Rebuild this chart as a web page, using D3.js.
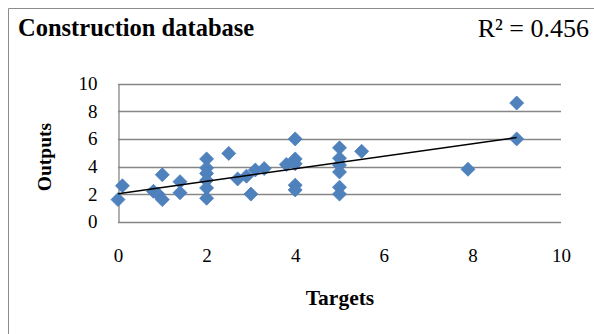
<!DOCTYPE html>
<html>
<head>
<meta charset="utf-8">
<script src="https://cdn.jsdelivr.net/npm/d3@7"></script>
<style>
  html, body { margin: 0; padding: 0; background: #fff; }
  svg { display: block; }
  text { font-family: "Liberation Serif", "Times New Roman", serif; fill: #000; }
</style>
</head>
<body>
<svg id="chart" width="594" height="334"></svg>
<script>
// Targets vs. outputs for the construction database
const targets = [0, 0.1, 0.8, 0.9, 1, 1, 1.4, 1.4,
  2, 2, 2, 2, 2, 2,
  2.5, 2.7, 2.9, 3, 3.1, 3.3, 3.8,
  4, 4, 4, 4, 4,
  5, 5, 5, 5, 5, 5,
  5.5, 7.9, 9, 9];
const outputs = [1.6, 2.6, 2.2, 2.0, 3.4, 1.6, 2.9, 2.1,
  4.55, 3.9, 3.5, 3.0, 2.45, 1.7,
  4.95, 3.1, 3.3, 2.0, 3.75, 3.85, 4.15,
  6.0, 4.55, 4.2, 2.65, 2.3,
  5.35, 4.6, 4.1, 3.6, 2.5, 2.0,
  5.1, 3.8, 8.6, 6.0];
const xTicks = [0, 2, 4, 6, 8, 10];
const yTicks = [0, 2, 4, 6, 8, 10];
const titleText = "Construction database";
const rSquaredText = "R\u00B2 = 0.456";

const svg = d3.select("#chart");
const plot = { left: 118, right: 561, top: 83.7, bottom: 221.7 };

const x = d3.scaleLinear().domain([0, 10]).range([plot.left, plot.right]);
const y = d3.scaleLinear().domain([0, 10]).range([plot.bottom, plot.top]);

// outer chart frame (left and top edges visible)
svg.append("path")
  .attr("d", "M8.5,334 V8.5 H594")
  .attr("fill", "none")
  .attr("stroke", "#8c8c8c")
  .attr("stroke-width", 1);

// horizontal gridlines
svg.append("g")
  .selectAll("line")
  .data(yTicks)
  .join("line")
  .attr("x1", plot.left).attr("x2", plot.right)
  .attr("y1", d => Math.round(y(d)) + 0.5).attr("y2", d => Math.round(y(d)) + 0.5)
  .attr("stroke", "#868686").attr("stroke-width", 1.3);

// y axis
const yAxis = d3.axisLeft(y).tickValues(yTicks).tickSize(0).tickPadding(21);
const gy = svg.append("g").attr("transform", `translate(${plot.left + 0.5},0)`).call(yAxis);
gy.select(".domain").attr("stroke", "#868686").attr("stroke-width", 1.3);
gy.selectAll("text").style("font-family", "Liberation Serif, serif").style("font-size", "19px").attr("fill", "#000");

// x axis (labels only)
const xAxis = d3.axisBottom(x).tickValues(xTicks).tickSize(0).tickPadding(27);
const gx = svg.append("g").attr("transform", `translate(0,${plot.bottom})`).call(xAxis);
gx.select(".domain").remove();
gx.selectAll("text").style("font-family", "Liberation Serif, serif").style("font-size", "19px").attr("fill", "#000");

// linear trendline (least squares)
const pts = targets.map((t, i) => [t, outputs[i]]);
const mx = d3.mean(targets), my = d3.mean(outputs);
const sxy = d3.sum(pts, p => (p[0] - mx) * (p[1] - my));
const sxx = d3.sum(pts, p => (p[0] - mx) ** 2);
const slope = sxy / sxx, intercept = my - slope * mx;
const [xmin, xmax] = d3.extent(targets);

// markers
const diamond = "M0,-7L7,0L0,7L-7,0Z";
svg.append("g")
  .selectAll("path")
  .data(pts)
  .join("path")
  .attr("d", diamond)
  .attr("transform", d => `translate(${x(d[0])},${y(d[1])})`)
  .attr("fill", "#4F81BD")
  .attr("stroke", "#4A7EBB")
  .attr("stroke-width", 0.8);

svg.append("line")
  .attr("x1", x(xmin)).attr("y1", y(intercept + slope * xmin))
  .attr("x2", x(xmax)).attr("y2", y(intercept + slope * xmax))
  .attr("stroke", "#000").attr("stroke-width", 1.5);

// titles
svg.append("text").attr("x", 18).attr("y", 36)
  .style("font-size", "24.5px").style("font-weight", "bold").text(titleText);
svg.append("text").attr("x", 589).attr("y", 36.5).attr("text-anchor", "end")
  .style("font-size", "26px").text(rSquaredText);
svg.append("text").attr("x", 340).attr("y", 305).attr("text-anchor", "middle")
  .style("font-size", "21.5px").style("font-weight", "bold").text("Targets");
svg.append("text").attr("transform", "translate(51,157) rotate(-90)").attr("text-anchor", "middle")
  .style("font-size", "19.5px").style("font-weight", "bold").text("Outputs");
</script>
</body>
</html>
